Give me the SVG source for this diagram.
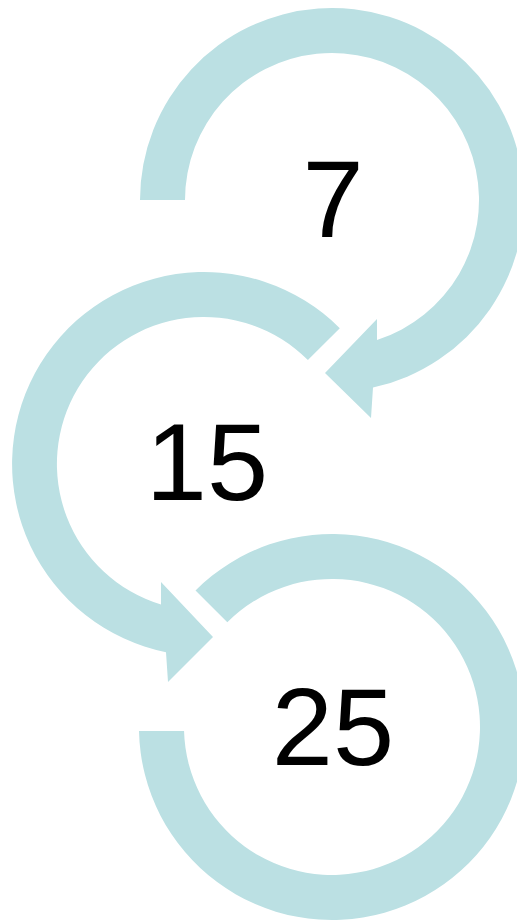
<svg xmlns="http://www.w3.org/2000/svg" width="517" height="921" viewBox="0 0 517 921">
<style>
.arc{fill:#BBE0E3;stroke:none}
.lbl{font-family:"Liberation Sans",Arial,sans-serif;font-size:110px;fill:#000;text-anchor:middle}
</style>
<rect width="517" height="921" fill="#fff"/>
<g id="connectors">
<g id="arrow1"><path class="arc" d="M140,200 A192,192 0 1 1 373,387.6 L371,418 L325,373 L377,319 L377,340 A147,147 0 1 0 185,200 Z"/></g>
<g id="arrow2"><path class="arc" d="M339.8,328.2 A192,192 0 1 0 166,652.2 L168,682 L213,637 L161,582 L161,604.6 A147,147 0 1 1 307.9,360.1 Z"/></g>
<g id="arrow3"><path class="arc" d="M195.5,590.5 A193,193 0 1 1 139,731 L184.05,731 A148,148 0 1 0 227.3,622.3 Z"/></g>
</g>
<g id="node1"><text class="lbl" x="333" y="237">7</text></g>
<g id="node2"><text class="lbl" x="207" y="500">15</text></g>
<g id="node3"><text class="lbl" x="333" y="765">25</text></g>
</svg>
